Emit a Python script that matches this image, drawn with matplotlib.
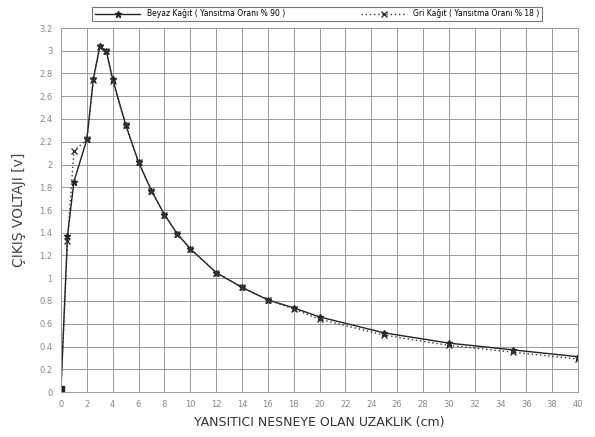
import numpy as np
import matplotlib
matplotlib.use("Agg")
import matplotlib.pyplot as plt
from matplotlib.ticker import FuncFormatter

# distance (cm) and output voltage (V)
uzaklik = [0, 0.5, 1, 2, 2.5, 3, 3.5, 4, 5, 6, 7, 8, 9, 10, 12, 14, 16, 18, 20, 25, 30, 35, 40]
beyaz = [0.03, 1.37, 1.85, 2.22, 2.75, 3.04, 3.00, 2.75, 2.35, 2.02, 1.77, 1.56, 1.39, 1.26,
         1.05, 0.92, 0.81, 0.74, 0.66, 0.52, 0.43, 0.37, 0.31]
gri = [0.03, 1.33, 2.12, 2.22, 2.74, 3.03, 3.00, 2.73, 2.35, 2.02, 1.77, 1.56, 1.39, 1.26,
       1.05, 0.92, 0.81, 0.73, 0.64, 0.50, 0.41, 0.35, 0.29]

fig = plt.figure(figsize=(5.95, 4.37), dpi=100)
ax = fig.add_axes([61/595, 1 - 392/437, 517/595, 364/437])

ax.plot(uzaklik, beyaz, color="#222222", lw=1.0, marker="*", ms=5,
        label="Beyaz Kağıt ( Yansıtma Oranı % 90 )")
ax.plot(uzaklik, gri, color="#333333", lw=1.0, ls=(0, (1, 2)), marker="x", ms=4,
        label="Gri Kağıt ( Yansıtma Oranı % 18 )")
ax.plot(uzaklik[:1], beyaz[:1], ls="none", marker="s", ms=4, color="#222222")

ax.set_xlim(0, 40)
ax.set_ylim(0, 3.2)
ax.set_xticks(np.arange(0, 41, 2))
ax.set_yticks(np.arange(0, 3.21, 0.2))
ax.yaxis.set_major_formatter(FuncFormatter(lambda v, p: "%g" % round(v, 1)))
ax.grid(True, color="#999999", lw=0.7)
ax.tick_params(length=0, labelsize=6, labelcolor="#888888", pad=6)
for s in ax.spines.values():
    s.set_color("#999999")
    s.set_linewidth(0.7)

ax.set_xlabel("YANSITICI NESNEYE OLAN UZAKLIK (cm)", fontsize=9, color="#333333", labelpad=5)
ax.set_ylabel("ÇIKIŞ VOLTAJI [v]", fontsize=10, color="#444444", labelpad=10)

leg = fig.legend(loc="center", bbox_to_anchor=(317/595, 1 - 14/437), ncol=2, fontsize=5.5,
                 frameon=True, fancybox=False, edgecolor="#555555", handlelength=6,
                 columnspacing=10, borderpad=0.3, borderaxespad=0)
leg.get_frame().set_linewidth(0.8)

fig.savefig("out.png", dpi=100)
